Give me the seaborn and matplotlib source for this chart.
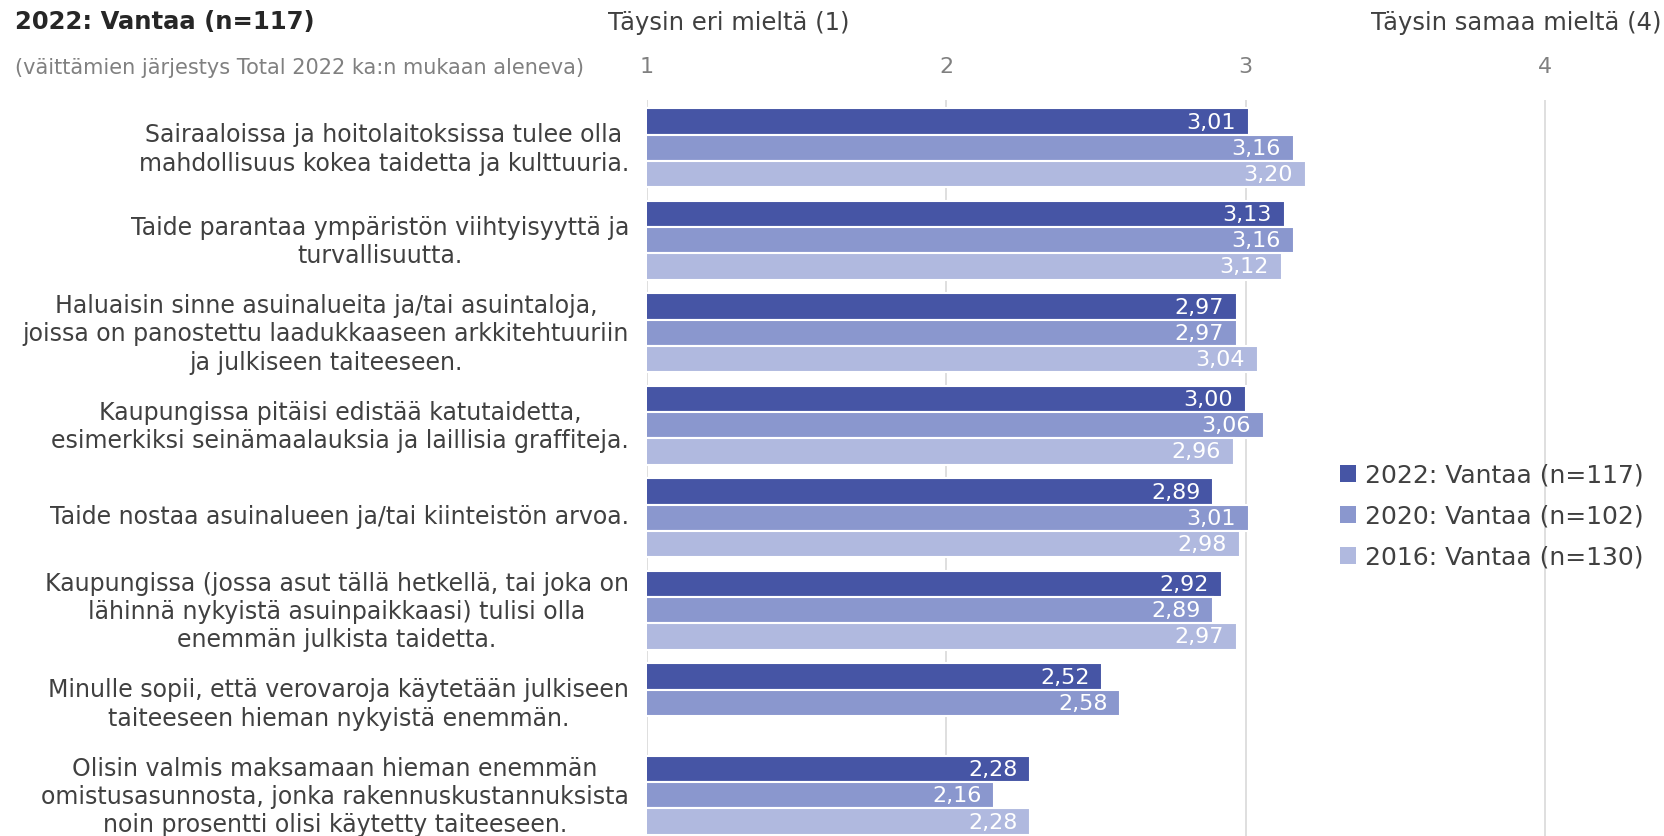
import numpy as np
import pandas as pd
import seaborn as sns
import matplotlib
matplotlib.use("Agg")
import matplotlib.pyplot as plt
import matplotlib.transforms as mtransforms
from matplotlib.patches import Patch

statements = [
    "Sairaaloissa ja hoitolaitoksissa tulee olla\nmahdollisuus kokea taidetta ja kulttuuria.",
    "Taide parantaa ympäristön viihtyisyyttä ja\nturvallisuutta.",
    "Haluaisin sinne asuinalueita ja/tai asuintaloja,\njoissa on panostettu laadukkaaseen arkkitehtuuriin\nja julkiseen taiteeseen.",
    "Kaupungissa pitäisi edistää katutaidetta,\nesimerkiksi seinämaalauksia ja laillisia graffiteja.",
    "Taide nostaa asuinalueen ja/tai kiinteistön arvoa.",
    "Kaupungissa (jossa asut tällä hetkellä, tai joka on\nlähinnä nykyistä asuinpaikkaasi) tulisi olla\nenemmän julkista taidetta.",
    "Minulle sopii, että verovaroja käytetään julkiseen\ntaiteeseen hieman nykyistä enemmän.",
    "Olisin valmis maksamaan hieman enemmän\nomistusasunnosta, jonka rakennuskustannuksista\nnoin prosentti olisi käytetty taiteeseen.",
]
series_names = ["2022: Vantaa (n=117)", "2020: Vantaa (n=102)", "2016: Vantaa (n=130)"]
vals_2022 = [3.01, 3.13, 2.97, 3.00, 2.89, 2.92, 2.52, 2.28]
vals_2020 = [3.16, 3.16, 2.97, 3.06, 3.01, 2.89, 2.58, 2.16]
vals_2016 = [3.20, 3.12, 3.04, 2.96, 2.98, 2.97, np.nan, 2.28]
tick_values = [1, 2, 3, 4]

colors = ["#4655A5", "#8A97CE", "#B0B9DF"]
text_dark = "#404040"

df = pd.DataFrame({
    "statement": statements * 3,
    "series": np.repeat(series_names, len(statements)),
    "value": vals_2022 + vals_2020 + vals_2016,
}).dropna()

sns.set_theme(style="white")
plt.rcParams["font.family"] = ["DejaVu Sans"]

fig = plt.figure(figsize=(16.65, 8.37), dpi=100)
ax = fig.add_axes([647 / 1665, 0.0, (1560 - 647) / 1665, 1 - 101 / 837])

sns.barplot(data=df, x="value", y="statement", hue="series", order=statements,
            hue_order=series_names, palette=colors, saturation=1, orient="h",
            width=0.85, edgecolor="white", linewidth=1.5, legend=False, ax=ax)

ax.set_xlim(1, 4.05)
ax.set_ylim(7.44, -0.516)
ax.set_xticks(tick_values)
ax.xaxis.tick_top()
ax.tick_params(axis="x", length=0, pad=17, labelsize=16, labelcolor="#808080")
ax.tick_params(axis="y", length=0, pad=13, labelsize=17, labelcolor=text_dark)
lift = mtransforms.ScaledTranslation(0, 4 / 100, fig.dpi_scale_trans)
for lbl in ax.get_yticklabels():
    lbl.set_multialignment("center")
    lbl.set_linespacing(1.23)
    lbl.set_transform(lbl.get_transform() + lift)
ax.set_xlabel("")
ax.set_ylabel("")
ax.grid(axis="x", color="#D9D9D9", linewidth=1.2)
ax.set_axisbelow(True)
for s in ax.spines.values():
    s.set_visible(False)

# value labels inside the bar ends
for cont in ax.containers:
    for bar in cont:
        w = bar.get_width()
        if np.isnan(w):
            continue
        ax.annotate(f"{w:.2f}".replace(".", ","),
                    xy=(w, bar.get_y() + bar.get_height() / 2),
                    xytext=(-9, 0), textcoords="offset points",
                    ha="right", va="center", color="white", fontsize=16)

fig.text(15 / 1665, 1 - 22 / 837, "2022: Vantaa (n=117)", fontsize=17.5,
         fontweight="bold", color="#262626", ha="left", va="center")
fig.text(15 / 1665, 1 - 68 / 837, "(väittämien järjestys Total 2022 ka:n mukaan aleneva)",
         fontsize=15, color="#808080", ha="left", va="center")
fig.text(729 / 1665, 1 - 23 / 837, "Täysin eri mieltä (1)", fontsize=17.5,
         color=text_dark, ha="center", va="center")
fig.text(1662 / 1665, 1 - 23 / 837, "Täysin samaa mieltä (4)", fontsize=17.5,
         color=text_dark, ha="right", va="center")

handles = [Patch(facecolor=c, edgecolor="none") for c in colors]
fig.legend(handles, series_names, loc="center left",
           bbox_to_anchor=(1330 / 1665, 1 - 517 / 837), frameon=False,
           fontsize=18, labelcolor=text_dark, handlelength=0.65, handleheight=0.65,
           handletextpad=0.35, labelspacing=0.68, borderaxespad=0)

fig.savefig("out.png", dpi=100)
